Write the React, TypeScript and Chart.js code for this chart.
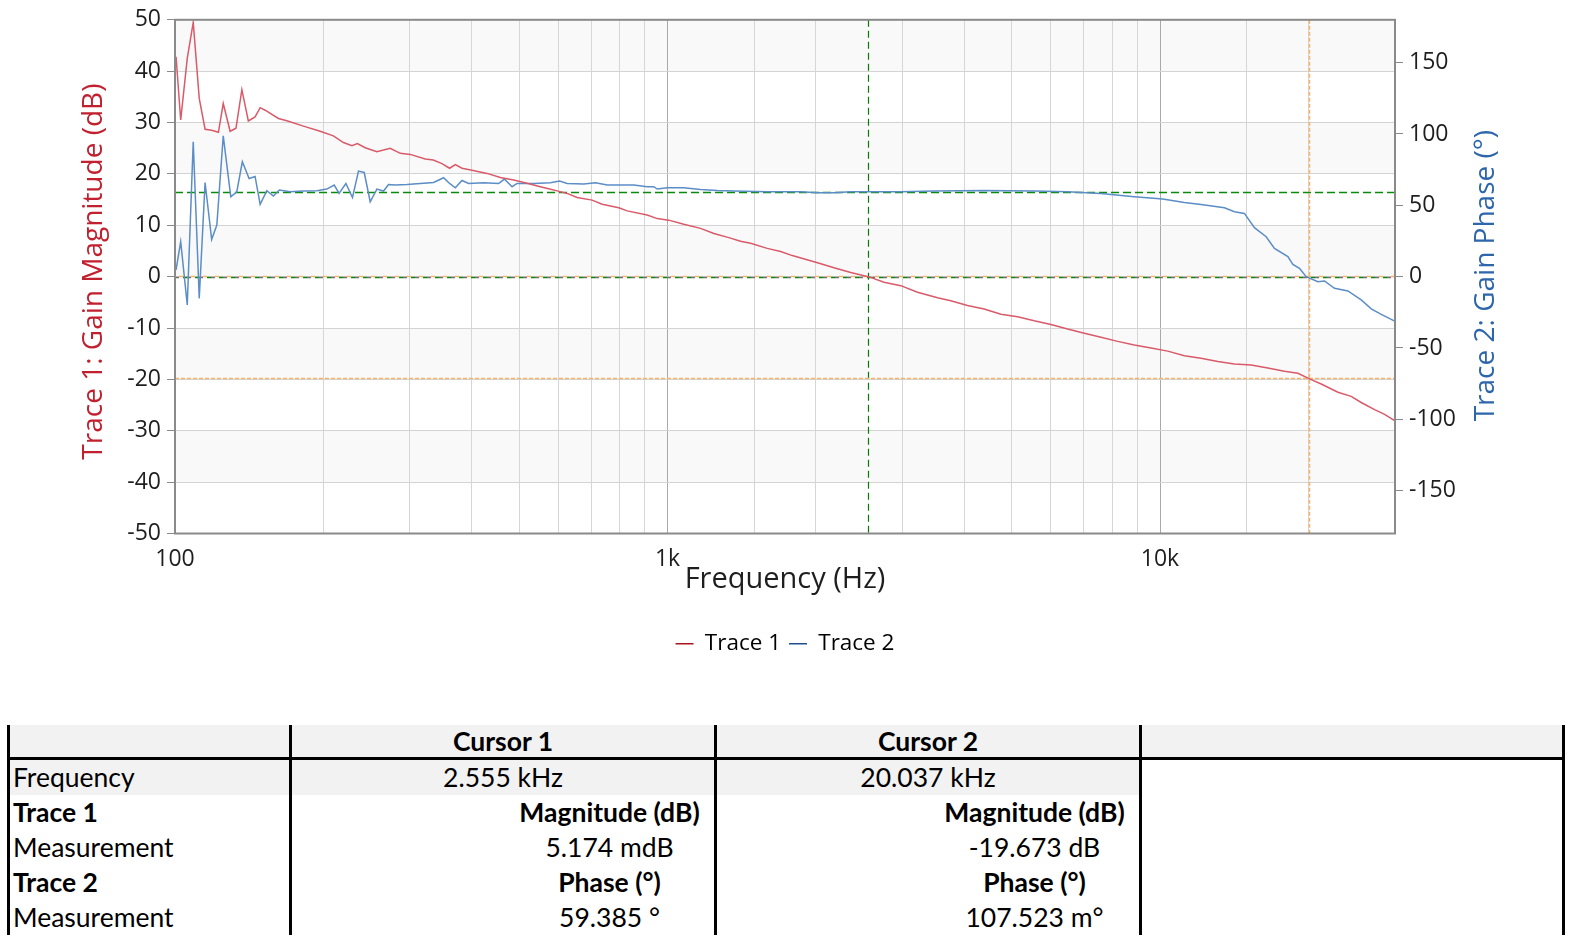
import React, { useEffect, useRef } from "react";
import Chart from "chart.js/auto";

// ---------- data ----------
const magFreq = [100.5, 102.7, 105.9, 108.9, 112.0, 115.1, 118.7, 122.5, 125.3, 129.4, 133.0, 136.7, 140.9, 145.4, 148.9, 152.4, 162.2, 168.7, 182.3, 197.1, 209.7, 219.8, 228.7, 234.6, 243.3, 257.0, 273.5, 286.7, 300.4, 322.2, 334.5, 348.4, 361.0, 370.8, 382.6, 400.9, 430.0, 457.7, 487.2, 518.6, 552.0, 573.8, 596.8, 625.4, 655.4, 703.1, 736.8, 796.2, 828.2, 909.3, 953.0, 1006, 1079, 1167, 1242, 1332, 1407, 1475, 1594, 1697, 1792, 2016, 2178, 2355, 2566, 2752, 2976, 3218, 3534, 3760, 4065, 4395, 4752, 5138, 5554, 6004, 6493, 7018, 7588, 8204, 8867, 9588, 10368, 11205, 12115, 13103, 14159, 15311, 16555, 17889, 19055, 20118, 21246, 22976, 24446, 25614, 27267, 28577, 29891];
const magDb = [42.8, 30.5, 42.5, 49.5, 34.7, 28.7, 28.5, 28.1, 33.7, 28.3, 28.9, 36.4, 30.3, 31.1, 32.9, 32.4, 30.8, 30.35, 29.3, 28.3, 27.4, 26.1, 25.5, 25.9, 25.1, 24.3, 25.0, 24.0, 23.8, 22.9, 22.7, 22.0, 21.1, 21.8, 21.1, 20.7, 20.1, 19.3, 18.8, 18.2, 17.5, 17.1, 16.7, 16.2, 15.4, 14.9, 14.1, 13.4, 12.8, 12.0, 11.3, 11.0, 10.2, 9.4, 8.4, 7.6, 6.9, 6.5, 5.5, 4.9, 4.1, 2.7, 1.75, 0.8, -0.05, -1.1, -1.75, -3.05, -4.1, -4.7, -5.6, -6.3, -7.3, -7.8, -8.6, -9.3, -10.2, -11.0, -11.8, -12.6, -13.3, -13.9, -14.5, -15.4, -15.9, -16.5, -17.0, -17.2, -17.8, -18.4, -18.8, -19.9, -20.9, -22.5, -23.3, -24.5, -25.9, -26.8, -28.0];

const phaseFreq = [100.5, 102.7, 105.9, 108.9, 112.0, 115.1, 118.7, 121.6, 125.3, 129.8, 133.5, 137.0, 141.4, 145.4, 148.9, 153.6, 158.4, 162.9, 171.3, 182.3, 194.1, 203.4, 210.5, 215.4, 222.3, 229.3, 235.8, 242.2, 249.1, 257.0, 265.1, 271.4, 280.1, 295.8, 314.8, 335.0, 351.0, 361.0, 370.8, 382.6, 394.6, 423.3, 454.1, 466.4, 483.5, 495.0, 535.0, 578.3, 604.0, 625.4, 676.0, 714.1, 754.3, 854.3, 909.3, 938.1, 953.0, 998.6, 1079, 1167, 1262, 1364, 1594, 1864, 2016, 2178, 2355, 2546, 2976, 3478, 4395, 5554, 6493, 7588, 8867, 10128, 11205, 12115, 13513, 14159, 14837, 15549, 16425, 17076, 18180, 18610, 19194, 19805, 20916, 21573, 22610, 24072, 25614, 26848, 28134, 29891];
const phaseDeg = [4.7, 24.5, -19.8, 94.5, -15.2, 66.0, 26.1, 36.2, 98.7, 56.0, 59.5, 80.5, 68.8, 70.2, 50.6, 60.2, 56.5, 60.7, 59.5, 60.0, 60.2, 61.4, 64.2, 58.3, 65.3, 55.5, 74.0, 73.0, 52.5, 61.4, 60.0, 64.6, 64.2, 64.6, 65.3, 66.0, 69.3, 65.3, 62.3, 67.4, 65.3, 65.8, 65.3, 68.4, 63.0, 65.3, 65.3, 65.8, 67.0, 65.3, 64.9, 65.8, 64.2, 64.2, 63.0, 63.0, 61.4, 62.3, 62.3, 61.1, 60.4, 60.0, 59.5, 59.5, 58.8, 58.8, 59.5, 59.5, 59.5, 60.0, 60.4, 60.0, 59.5, 58.3, 56.0, 54.4, 52.0, 50.6, 48.3, 45.5, 44.3, 34.3, 28.0, 19.8, 14.0, 8.6, 5.8, 0, -3.5, -3.0, -8.2, -10.0, -16.3, -22.6, -26.4, -31.0];

const magTicks = [50, 40, 30, 20, 10, 0, -10, -20, -30, -40, -50];
const phaseTicks = [-150, -100, -50, 0, 50, 100, 150];
const freqTickLabels: Record<number, string> = { 100: "100", 1000: "1k", 10000: "10k" };

const cursor1Freq = 2555;
const cursor1Mag = 0.005174;
const cursor1Phase = 59.385;
const cursor2Freq = 20037;
const cursor2Mag = -19.673;
const cursor2Phase = 0.107523;

const seriesNames = ["Trace 1", "Trace 2"];

const tableHeader = ["", "Cursor 1", "Cursor 2", ""];
const tableRows = [
  { label: "Frequency", bold: false, shaded: true, offset: false, c1: "2.555 kHz", c2: "20.037 kHz" },
  { label: "Trace 1", bold: true, shaded: false, offset: true, c1: "Magnitude (dB)", c2: "Magnitude (dB)" },
  { label: "Measurement", bold: false, shaded: false, offset: true, c1: "5.174 mdB", c2: "-19.673 dB" },
  { label: "Trace 2", bold: true, shaded: false, offset: true, c1: "Phase (°)", c2: "Phase (°)" },
  { label: "Measurement", bold: false, shaded: false, offset: true, c1: "59.385 °", c2: "107.523 m°" },
];

// ---------- styling ----------
const FONT = "'Open Sans', 'Noto Sans', sans-serif";
const RED = "#d95a69";
const BLUE = "#5b8dc6";
const RED_TITLE = "#c1202f";
const BLUE_TITLE = "#2d66aa";
const GREEN = "#0a8a0a";
const ORANGE = "#f8b26a";

const bandsPlugin = {
  id: "bands",
  beforeDraw(chart: any) {
    const { ctx, chartArea: a, scales } = chart;
    const y = scales.y;
    ctx.save();
    ctx.fillStyle = "#f9f9f9";
    for (let i = 0; i < magTicks.length - 1; i += 2) {
      const t = y.getPixelForValue(magTicks[i]);
      const b = y.getPixelForValue(magTicks[i + 1]);
      ctx.fillRect(a.left, t, a.right - a.left, b - t);
    }
    ctx.restore();
  },
};

const cursorPlugin = {
  id: "cursors",
  beforeDatasetsDraw(chart: any) {
    const { ctx, chartArea: a, scales } = chart;
    const x = scales.x, y = scales.y, y2 = scales.y2;
    const hline = (py: number, color: string, dash: number[], off: number, w: number) => {
      ctx.save();
      ctx.strokeStyle = color;
      ctx.lineWidth = w;
      ctx.setLineDash(dash);
      ctx.lineDashOffset = off;
      ctx.beginPath();
      ctx.moveTo(a.left, Math.round(py) + 0.5);
      ctx.lineTo(a.right, Math.round(py) + 0.5);
      ctx.stroke();
      ctx.restore();
    };
    const vline = (px: number, color: string, dash: number[], w: number) => {
      ctx.save();
      ctx.strokeStyle = color;
      ctx.lineWidth = w;
      ctx.setLineDash(dash);
      ctx.beginPath();
      ctx.moveTo(Math.round(px) + 0.5, a.top);
      ctx.lineTo(Math.round(px) + 0.5, a.bottom);
      ctx.stroke();
      ctx.restore();
    };
    // zero reference
    hline(y.getPixelForValue(0), "#707070", [4, 8], 0, 1.5);
    // cursor 1 (green)
    hline(y.getPixelForValue(cursor1Mag), GREEN, [4, 8], 4, 1.5);
    hline(y2.getPixelForValue(cursor1Phase), GREEN, [8, 4], 0, 1.5);
    vline(x.getPixelForValue(cursor1Freq), "#087a08", [7, 4], 1.2);
    // cursor 2 (orange)
    hline(y.getPixelForValue(cursor2Mag), ORANGE, [4, 2], 0, 1.5);
    hline(y2.getPixelForValue(cursor2Phase), ORANGE, [4, 8], 8, 1.5);
    vline(x.getPixelForValue(cursor2Freq), ORANGE, [4, 2], 1.5);
  },
};

const framePlugin = {
  id: "frame",
  afterDraw(chart: any) {
    const { ctx, chartArea: a } = chart;
    ctx.save();
    ctx.strokeStyle = "#8a8a8a";
    ctx.lineWidth = 2;
    ctx.strokeRect(a.left, a.top, a.right - a.left, a.bottom - a.top);
    // titles
    ctx.textAlign = "center";
    ctx.textBaseline = "middle";
    const cy = (a.top + a.bottom) / 2;
    ctx.font = `28px ${FONT}`;
    ctx.save();
    ctx.translate(a.left - 81, cy - 5);
    ctx.rotate(-Math.PI / 2);
    ctx.fillStyle = RED_TITLE;
    ctx.fillText("Trace 1: Gain Magnitude (dB)", 0, 0);
    ctx.restore();
    ctx.save();
    ctx.translate(a.right + 91, cy - 1);
    ctx.rotate(-Math.PI / 2);
    ctx.fillStyle = BLUE_TITLE;
    ctx.fillText("Trace 2: Gain Phase (°)", 0, 0);
    ctx.restore();
    ctx.font = `29px ${FONT}`;
    ctx.fillStyle = "#1e1e1e";
    ctx.fillText("Frequency (Hz)", (a.left + a.right) / 2, a.bottom + 46);
    ctx.restore();
  },
};

function BodeChart() {
  const ref = useRef<HTMLCanvasElement | null>(null);
  useEffect(() => {
    if (!ref.current) return;
    const tickFont = { family: FONT, size: 23 };
    const chart = new Chart(ref.current, {
      type: "line",
      data: {
        datasets: [
          {
            label: seriesNames[0],
            data: magFreq.map((f, i) => ({ x: f, y: magDb[i] })),
            borderColor: RED,
            backgroundColor: RED,
            borderWidth: 1.5,
            pointRadius: 0,
            yAxisID: "y",
          },
          {
            label: seriesNames[1],
            data: phaseFreq.map((f, i) => ({ x: f, y: phaseDeg[i] })),
            borderColor: BLUE,
            backgroundColor: BLUE,
            borderWidth: 1.5,
            pointRadius: 0,
            yAxisID: "y2",
          },
        ],
      },
      options: {
        responsive: false,
        animation: false,
        parsing: false as any,
        layout: { padding: { top: 17, left: 0, right: 0, bottom: 15 } },
        plugins: {
          tooltip: { enabled: false },
          legend: {
            position: "bottom",
            labels: {
              usePointStyle: true,
              pointStyleWidth: 18,
              padding: 8,
              color: "#262626",
              font: { family: FONT, size: 22.5 },
              generateLabels: () => [
                { text: seriesNames[0], strokeStyle: "#a8141e", fillStyle: "#a8141e", lineWidth: 1.5, pointStyle: "line", datasetIndex: 0, hidden: false },
                { text: seriesNames[1], strokeStyle: "#1f4f8f", fillStyle: "#1f4f8f", lineWidth: 1.5, pointStyle: "line", datasetIndex: 1, hidden: false },
              ] as any,
            },
          },
        },
        scales: {
          x: {
            type: "logarithmic",
            min: 100,
            max: 30000,
            position: "bottom",
            border: { display: false },
            grid: {
              drawTicks: false,
              color: (c: any) => {
                const v = c.tick ? c.tick.value : 0;
                return v === 1000 || v === 10000 ? "#a9a9a9" : "#d6d6d6";
              },
            },
            ticks: {
              autoSkip: false,
              maxRotation: 0,
              padding: 12,
              color: "#1e1e1e",
              font: tickFont,
              callback: (v: any) => freqTickLabels[Number(v)] ?? "",
            },
            afterFit: (s: any) => {
              s.height = 91;
            },
          },
          y: {
            type: "linear",
            position: "left",
            min: -50,
            max: 50,
            border: { display: false },
            grid: { color: "#d4d4d4", tickColor: "#8a8a8a", tickLength: 8 },
            ticks: { padding: 6, color: "#1e1e1e", font: tickFont },
            afterBuildTicks: (s: any) => {
              s.ticks = magTicks.map((v) => ({ value: v }));
            },
            afterFit: (s: any) => {
              s.width = 175;
            },
          },
          y2: {
            type: "linear",
            position: "right",
            min: -180,
            max: 180,
            border: { display: false },
            grid: { drawOnChartArea: false, tickColor: "#8a8a8a", tickLength: 8 },
            ticks: { padding: 6, color: "#1e1e1e", font: tickFont },
            afterBuildTicks: (s: any) => {
              s.ticks = phaseTicks.map((v) => ({ value: v }));
            },
            afterFit: (s: any) => {
              s.width = 175;
            },
          },
        },
      } as any,
      plugins: [bandsPlugin, cursorPlugin, framePlugin],
    });
    return () => chart.destroy();
  }, []);
  return <canvas ref={ref} width={1570} height={680} style={{ display: "block" }} />;
}

function CursorTable() {
  const TFONT = "Lato, 'Open Sans', sans-serif";
  const colW = [282, 425, 425, 426];
  const cellBase: React.CSSProperties = {
    boxSizing: "border-box",
    borderLeft: "3px solid #000",
    padding: 0,
    height: 35,
    lineHeight: "35px",
    fontSize: 26.5,
    fontFamily: TFONT,
    color: "#000",
    whiteSpace: "nowrap",
    overflow: "hidden",
  };
  return (
    <table
      style={{
        position: "absolute",
        left: 7,
        top: 725,
        borderCollapse: "separate",
        borderSpacing: 0,
        tableLayout: "fixed",
        width: colW.reduce((p, c) => p + c, 0),
      }}
    >
      <colgroup>
        {colW.map((w, i) => (
          <col key={i} style={{ width: w }} />
        ))}
      </colgroup>
      <thead>
        <tr>
          {tableHeader.map((h, i) => (
            <th
              key={i}
              style={{
                ...cellBase,
                height: 35,
                lineHeight: "32px",
                background: "#f2f2f2",
                borderBottom: "3px solid #000",
                borderRight: i === 3 ? "3px solid #000" : undefined,
                textAlign: "center",
                fontWeight: 700,
              }}
            >
              {h}
            </th>
          ))}
        </tr>
      </thead>
      <tbody>
        {tableRows.map((r, ri) => {
          const valStyle: React.CSSProperties = {
            ...cellBase,
            background: r.shaded ? "#f2f2f2" : "#fff",
            textAlign: "center",
            fontWeight: r.bold ? 700 : 400,
            paddingLeft: r.offset ? 213 : 0,
          };
          return (
            <tr key={ri}>
              <td style={{ ...cellBase, background: r.shaded ? "#f2f2f2" : "#fff", paddingLeft: 3, fontWeight: r.bold ? 700 : 400 }}>
                {r.label}
              </td>
              <td style={valStyle}>{r.c1}</td>
              <td style={valStyle}>{r.c2}</td>
              <td style={{ ...cellBase, borderRight: "3px solid #000", background: "#fff" }}></td>
            </tr>
          );
        })}
      </tbody>
    </table>
  );
}

export default function App() {
  return (
    <div
      style={{
        position: "absolute",
        left: 0,
        top: 0,
        width: 1570,
        height: 938,
        overflow: "hidden",
        background: "#fff",
      }}
    >
      <BodeChart />
      <CursorTable />
    </div>
  );
}
